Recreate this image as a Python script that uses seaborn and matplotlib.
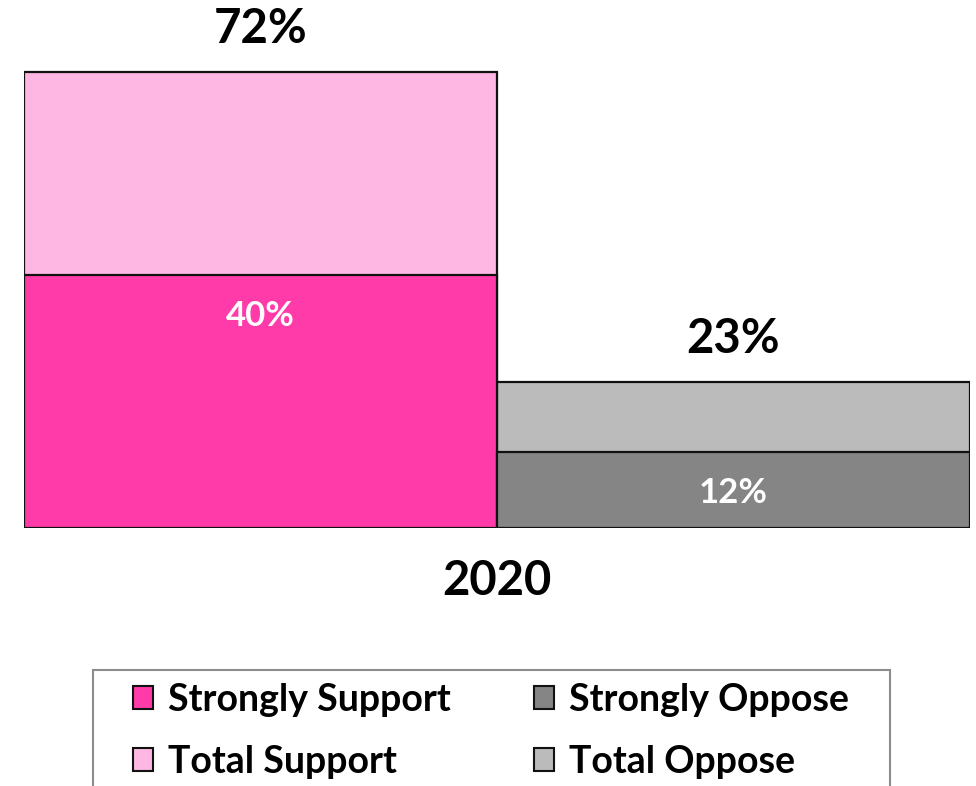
import matplotlib
matplotlib.use("Agg")
import matplotlib.pyplot as plt
import matplotlib.patches as mpatches
import seaborn as sns
import pandas as pd

sns.set_theme(style="white")
plt.rcParams["font.family"] = ["Lato", "DejaVu Sans"]
plt.rcParams["text.color"] = "black"

# Survey results for 2020
year = "2020"
groups = ["Support", "Oppose"]
total_values = [72, 23]
strong_values = [40, 12]
total_labels = ["Total Support", "Total Oppose"]
strong_labels = ["Strongly Support", "Strongly Oppose"]
total_colors = ["#FDB7E2", "#BBBBBB"]
strong_colors = ["#FF3BA9", "#858585"]

df = pd.DataFrame({"group": groups, "total": total_values, "strong": strong_values})

fig = plt.figure(figsize=(9.76, 7.86), dpi=100)
ax = fig.add_axes([24 / 976, 1 - 528 / 786, 946 / 976, 528 / 786])

# total bars behind, "strongly" bars overlaid on the same positions
sns.barplot(data=df, x="group", y="total", hue="group", palette=total_colors,
            saturation=1, width=1.0, edgecolor="#111111", linewidth=1.6,
            legend=False, ax=ax, zorder=2)
sns.barplot(data=df, x="group", y="strong", hue="group", palette=strong_colors,
            saturation=1, width=1.0, edgecolor="#111111", linewidth=1.6,
            legend=False, ax=ax, zorder=3)

ax.set_xlim(-0.5, 1.5)
ax.set_ylim(0, 83.4)
for s in ax.spines.values():
    s.set_visible(False)
ax.set_yticks([])
ax.set_xticks([0.5])
ax.set_xticklabels([year], fontsize=34, fontweight="bold", color="black")
ax.tick_params(axis="x", length=0, pad=22)
ax.set_xlabel("")
ax.set_ylabel("")

# value labels
for i, (t, s) in enumerate(zip(total_values, strong_values)):
    ax.text(i, t + 3.3, f"{t}%", ha="center", va="bottom", fontsize=34,
            fontweight="bold", color="black", zorder=5)
    ax.text(i, s - 4.0, f"{s}%", ha="center", va="top", fontsize=25,
            fontweight="bold", color="white", zorder=5)

# legend with a frame that runs off the bottom edge
frame = mpatches.Rectangle((93 / 976, -0.05), (890 - 93) / 976, (786 - 670) / 786 + 0.05,
                           transform=fig.transFigure, fill=False, edgecolor="#8C8C8C",
                           linewidth=1.5)
fig.patches.append(frame)

handles = [
    mpatches.Patch(facecolor=strong_colors[0], edgecolor="#111111", linewidth=1.5),
    mpatches.Patch(facecolor=total_colors[0], edgecolor="#111111", linewidth=1.5),
    mpatches.Patch(facecolor=strong_colors[1], edgecolor="#111111", linewidth=1.5),
    mpatches.Patch(facecolor=total_colors[1], edgecolor="#111111", linewidth=1.5),
]
labels = [strong_labels[0], total_labels[0], strong_labels[1], total_labels[1]]
leg = fig.legend(handles, labels, ncol=2, loc="upper left",
                 bbox_to_anchor=(114 / 976, 1 - 664 / 786), frameon=False,
                 prop={"size": 27, "weight": "bold"}, handlelength=0.55, handleheight=0.55,
                 handletextpad=0.4, columnspacing=2.2, labelspacing=0.75, borderpad=0)
for txt in leg.get_texts():
    txt.set_color("black")

fig.savefig("out.png", dpi=100)
